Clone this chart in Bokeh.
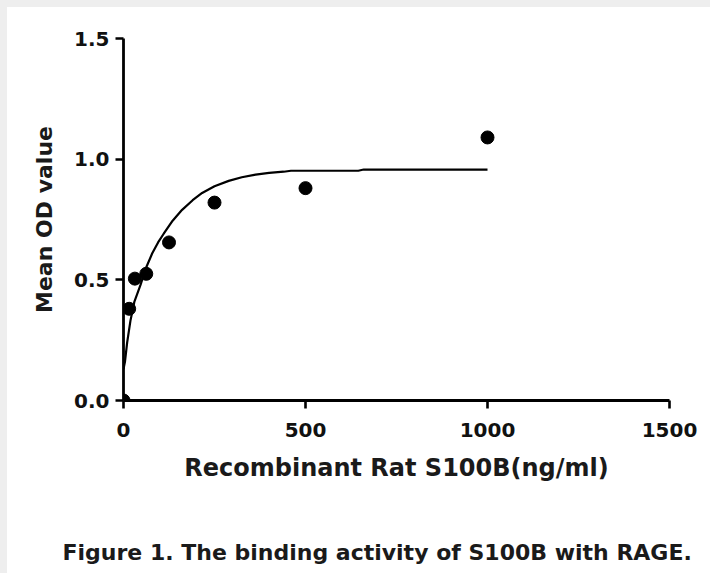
from bokeh.plotting import figure
from bokeh.models import Range1d, Title
from bokeh.embed import file_html
from bokeh.resources import INLINE

# Measured data points (concentration ng/ml, mean OD)
x_points = [0, 15.6, 31.25, 62.5, 125, 250, 500, 1000]
y_points = [0.0, 0.38, 0.505, 0.525, 0.655, 0.82, 0.88, 1.09]

# Fitted curve
fit_x = [0, 4, 10, 19, 30, 47, 62, 79, 95, 110, 135, 161, 190, 216, 250, 289, 325, 363, 400, 440, 460, 600, 645, 660, 800, 1000]
fit_y = [0.13, 0.16, 0.24, 0.33, 0.41, 0.48, 0.55, 0.61, 0.655, 0.69, 0.745, 0.79, 0.83, 0.86, 0.888, 0.91, 0.925, 0.936, 0.943, 0.948, 0.952, 0.952, 0.952, 0.957, 0.957, 0.957]

x_ticks = [0, 500, 1000, 1500]
y_ticks = [0.0, 0.5, 1.0, 1.5]
y_tick_labels = ["0.0", "0.5", "1.0", "1.5"]

x_title = "Recombinant Rat S100B(ng/ml)"
y_title = "Mean OD value"
caption = "Figure 1. The binding activity of S100B with RAGE."

FONT = "DejaVu Sans"

p = figure(width=710, height=573, output_backend="svg", toolbar_location=None,
           x_range=Range1d(0, 1500), y_range=Range1d(0, 1.5),
           min_border_left=123, min_border_right=41, min_border_top=38,
           min_border_bottom=173)
p.outline_line_color = None
p.grid.visible = False
p.background_fill_color = "white"
p.border_fill_color = "white"
p.border_fill_alpha = 0
p.styles = {"background": "linear-gradient(#eeeeee, #eeeeee) top left / 100% 7px no-repeat, "
                          "linear-gradient(#eeeeee, #eeeeee) top left / 7px 100% no-repeat, #ffffff"}

p.line(fit_x, fit_y, line_color="black", line_width=2.2)
p.scatter(x_points, y_points, size=13, color="black")

for ax in (p.xaxis[0], p.yaxis[0]):
    ax.axis_line_width = 2.8
    ax.axis_line_color = "black"
    ax.major_tick_line_width = 2.6
    ax.major_tick_line_color = "black"
    ax.major_tick_out = 8
    ax.major_tick_in = 0
    ax.minor_tick_line_color = None
    ax.major_label_text_font = FONT
    ax.major_label_text_font_style = "bold"
    ax.major_label_text_font_size = "20px"
    ax.major_label_text_color = "#111111"
    ax.axis_label_text_font = FONT
    ax.axis_label_text_font_style = "bold"
    ax.axis_label_text_color = "#1a1a1a"

xaxis = p.xaxis[0]
xaxis.ticker = x_ticks
xaxis.axis_label = x_title
xaxis.axis_label_text_font_size = "24px"
xaxis.axis_label_standoff = 14
xaxis.major_label_standoff = 14

p.yaxis.ticker = y_ticks
p.yaxis.major_label_overrides = {t: s for t, s in zip(y_ticks, y_tick_labels)}
p.yaxis.axis_label = y_title
p.yaxis.axis_label_text_font_size = "22px"
p.yaxis.axis_label_standoff = 14
p.yaxis.major_label_standoff = 6

# blank spacer between the axis title and the caption
p.add_layout(Title(text=" ", standoff=46, text_font=FONT,
                   text_font_size="4px"), "below")

p.add_layout(Title(text=caption, align="left", offset=-61, standoff=0,
                   text_font=FONT, text_font_style="bold",
                   text_font_size="22px", text_color="#1a1a1a"), "below")

open("out.html", "w").write(file_html(p, INLINE))
